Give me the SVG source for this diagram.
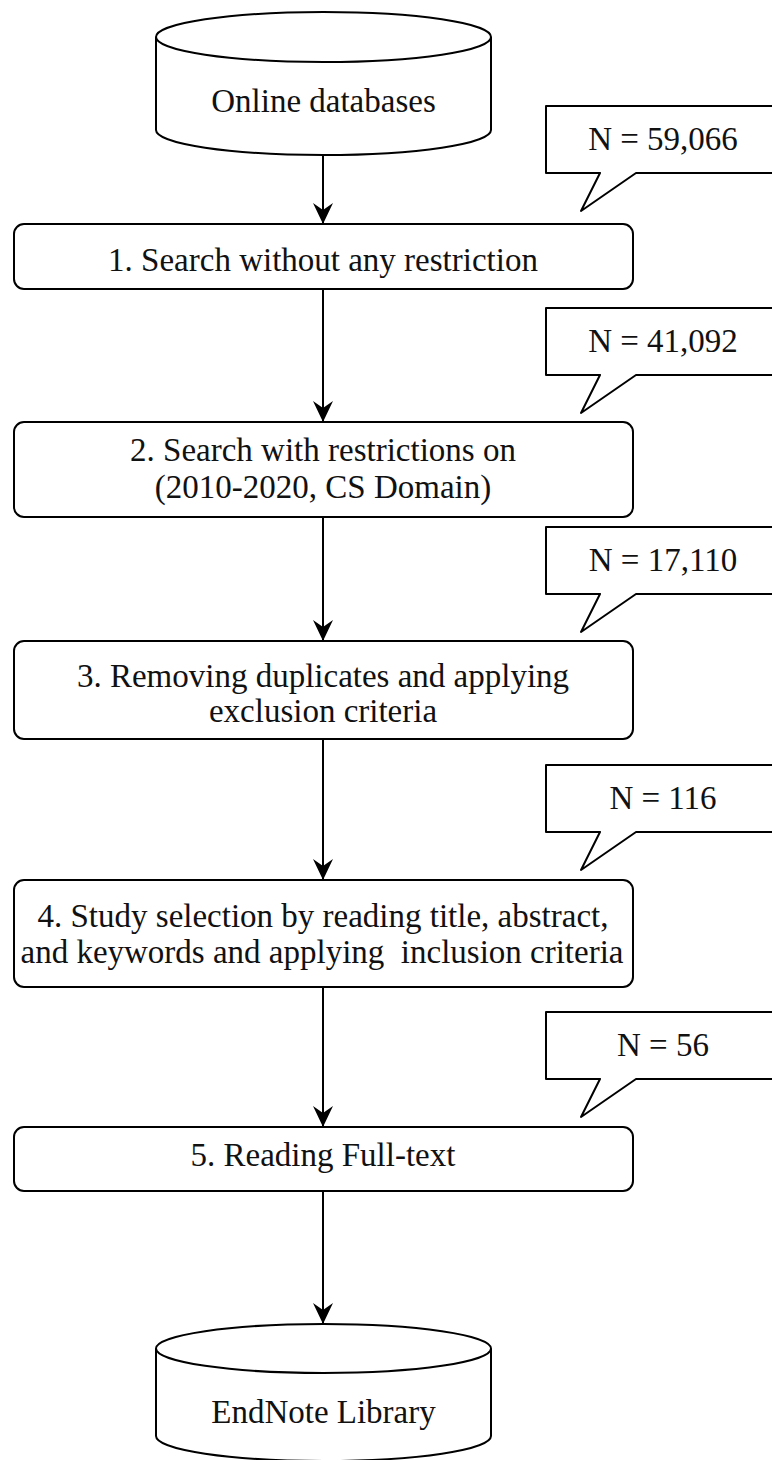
<svg xmlns="http://www.w3.org/2000/svg" width="772" height="1460" viewBox="0 0 772 1460">
  <style>
    .shape { fill: #ffffff; stroke: #000000; stroke-width: 2; stroke-linejoin: round; }
    .edge { fill: none; stroke: #000000; stroke-width: 2; }
    .label { font-family: "Liberation Serif", "Times New Roman", serif; font-size: 33px; fill: #111111; text-anchor: middle; white-space: pre; }
  </style>
  <defs>
    <marker id="arrow" markerWidth="21" markerHeight="20" refX="21" refY="10" orient="auto" markerUnits="userSpaceOnUse">
      <path d="M0,0 L21,10 L0,20 L7,10 Z" fill="#000000"/>
    </marker>
  </defs>
  <rect width="772" height="1460" fill="#ffffff"/>

  <!-- flow connectors -->
  <g id="connectors">
    <line class="edge" x1="323" y1="155" x2="323" y2="224" marker-end="url(#arrow)"/>
    <line class="edge" x1="323" y1="289" x2="323" y2="422" marker-end="url(#arrow)"/>
    <line class="edge" x1="323" y1="517" x2="323" y2="641" marker-end="url(#arrow)"/>
    <line class="edge" x1="323" y1="739" x2="323" y2="880" marker-end="url(#arrow)"/>
    <line class="edge" x1="323" y1="987" x2="323" y2="1127" marker-end="url(#arrow)"/>
    <line class="edge" x1="323" y1="1191" x2="323" y2="1324" marker-end="url(#arrow)"/>
  </g>

  <!-- source database -->
  <g id="online-databases">
    <path class="shape" d="M156,37 L156,130 A167.5,25 0 0 0 491,130 L491,37"/>
    <ellipse class="shape" cx="323.5" cy="37" rx="167.5" ry="25"/>
    <text class="label" x="323.5" y="112">Online databases</text>
  </g>

  <!-- process steps -->
  <g id="step1">
    <rect class="shape" x="14" y="224" width="619" height="65" rx="10" ry="10"/>
    <text class="label" x="323" y="271">1. Search without any restriction</text>
  </g>
  <g id="step2">
    <rect class="shape" x="14" y="422" width="619" height="95" rx="10" ry="10"/>
    <text class="label" x="323" y="461">2. Search with restrictions on</text>
    <text class="label" x="323" y="498">(2010-2020, CS Domain)</text>
  </g>
  <g id="step3">
    <rect class="shape" x="14" y="641" width="619" height="98" rx="10" ry="10"/>
    <text class="label" x="323" y="687">3. Removing duplicates and applying</text>
    <text class="label" x="323" y="722">exclusion criteria</text>
  </g>
  <g id="step4">
    <rect class="shape" x="14" y="880" width="619" height="107" rx="10" ry="10"/>
    <text class="label" x="323" y="927">4. Study selection by reading title, abstract,</text>
    <text class="label" x="322" y="963">and keywords and applying  inclusion criteria</text>
  </g>
  <g id="step5">
    <rect class="shape" x="14" y="1127" width="619" height="64" rx="10" ry="10"/>
    <text class="label" x="323" y="1166">5. Reading Full-text</text>
  </g>

  <!-- result library -->
  <g id="endnote-library">
    <path class="shape" d="M156,1348.5 L156,1436 A167.5,25 0 0 0 491,1436 L491,1348.5"/>
    <ellipse class="shape" cx="323.5" cy="1348.5" rx="167.5" ry="24.5"/>
    <text class="label" x="323.5" y="1423">EndNote Library</text>
  </g>

  <!-- count callouts -->
  <g id="count1">
    <path class="shape" d="M546,106 H780 V173 H636 L581,211 L600,173 H546 Z"/>
    <text class="label" x="663" y="150">N = 59,066</text>
  </g>
  <g id="count2">
    <path class="shape" d="M546,308 H780 V375 H636 L581,413 L600,375 H546 Z"/>
    <text class="label" x="663" y="352">N = 41,092</text>
  </g>
  <g id="count3">
    <path class="shape" d="M546,527 H780 V594 H636 L581,632 L600,594 H546 Z"/>
    <text class="label" x="663" y="571">N = 17,110</text>
  </g>
  <g id="count4">
    <path class="shape" d="M546,765 H780 V832 H636 L581,870 L600,832 H546 Z"/>
    <text class="label" x="663" y="809">N = 116</text>
  </g>
  <g id="count5">
    <path class="shape" d="M546,1012 H780 V1079 H636 L581,1117 L600,1079 H546 Z"/>
    <text class="label" x="663" y="1056">N = 56</text>
  </g>
</svg>
